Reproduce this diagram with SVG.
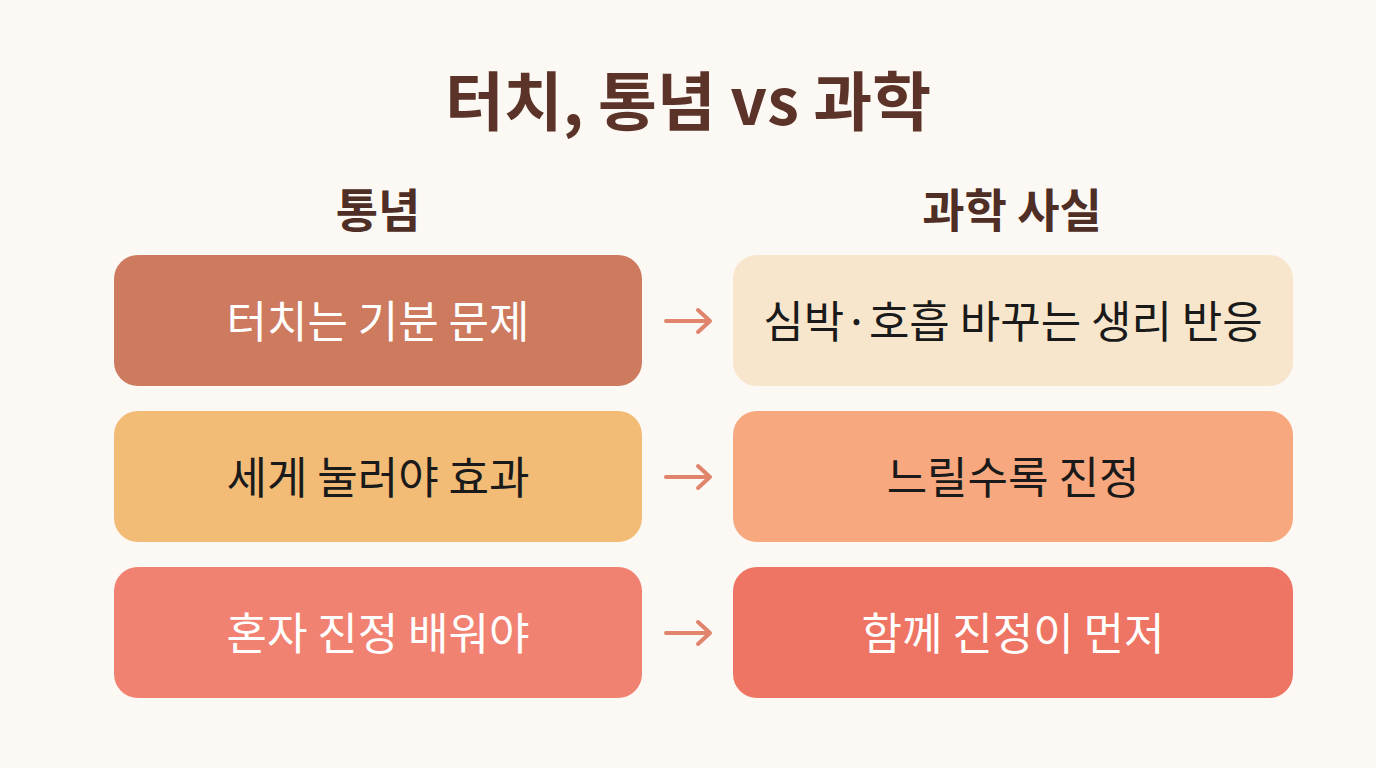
<svg xmlns="http://www.w3.org/2000/svg" width="1376" height="768" viewBox="0 0 1376 768">
<defs>
<style>
.t{font-family:"Noto Sans CJK KR","Noto Sans",sans-serif;text-anchor:middle}
.title{font-size:64px;font-weight:700;fill:#5B3328}
.hdr{font-size:46px;font-weight:700;fill:#4E2E25}
.lbl{font-size:44px;font-weight:400}
.w{fill:#FFFFFF}
.k{fill:#1A1A1A}
.arr{fill:none;stroke:#E0846C;stroke-width:4;stroke-linecap:round;stroke-linejoin:round}
</style>
</defs>
<rect width="1376" height="768" fill="#FCF8F3"/>
<text class="t title" x="688" y="125">터치, 통념 vs 과학</text>
<text class="t hdr" x="378" y="227">통념</text>
<text class="t hdr" x="1012" y="227">과학 사실</text>
<g id="n1"><rect x="114" y="255" width="528" height="131" rx="24" fill="#CD7A5E"/><text class="t lbl w" x="378" y="338">터치는 기분 문제</text></g>
<g id="n2"><rect x="733" y="255" width="560" height="131" rx="24" fill="#F7E6CC"/><text class="t lbl k" x="1013" y="338">심박·호흡 바꾸는 생리 반응</text></g>
<g id="n3"><rect x="114" y="411" width="528" height="131" rx="24" fill="#F2BC77"/><text class="t lbl k" x="378" y="494">세게 눌러야 효과</text></g>
<g id="n4"><rect x="733" y="411" width="560" height="131" rx="24" fill="#F8A87F"/><text class="t lbl k" x="1013" y="494">느릴수록 진정</text></g>
<g id="n5"><rect x="114" y="567" width="528" height="131" rx="24" fill="#F18272"/><text class="t lbl w" x="378" y="650">혼자 진정 배워야</text></g>
<g id="n6"><rect x="733" y="567" width="560" height="131" rx="24" fill="#EE7563"/><text class="t lbl w" x="1013" y="650">함께 진정이 먼저</text></g>
<g id="connectors">
<path class="arr" d="M666 321H710M698 310L710 321L698 332"/>
<path class="arr" d="M666 477H710M698 466L710 477L698 488"/>
<path class="arr" d="M666 633H710M698 622L710 633L698 644"/>
</g>
</svg>
